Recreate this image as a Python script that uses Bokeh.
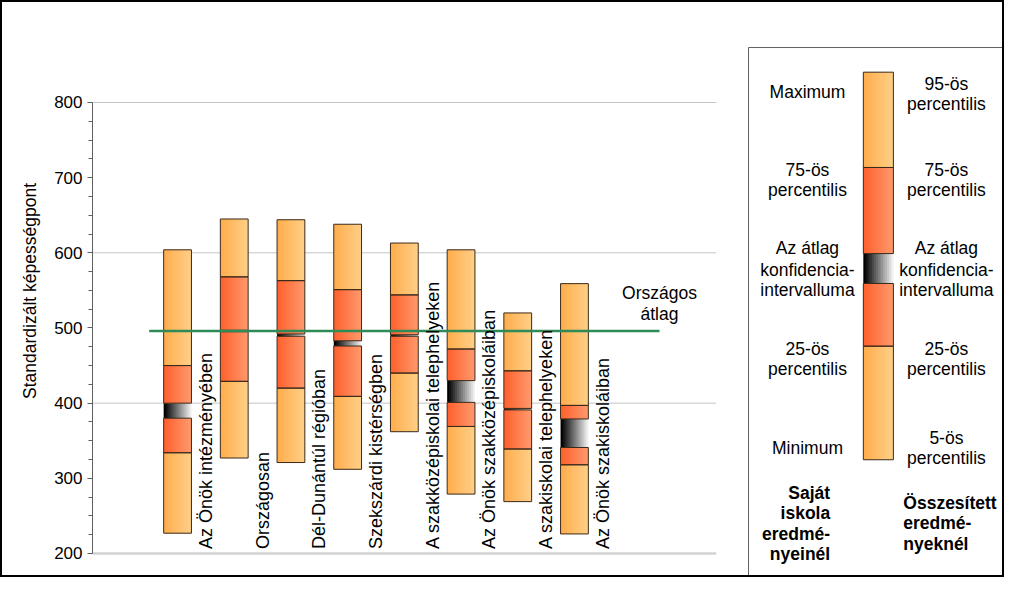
import numpy as np
from bokeh.plotting import figure
from bokeh.models import Range1d, SingleIntervalTicker
from bokeh.core.properties import value
from bokeh.embed import file_html
from bokeh.resources import INLINE

# ---------------- data ----------------
categories = [
    "Az Önök intézményében",
    "Országosan",
    "Dél-Dunántúl régióban",
    "Szekszárdi kistérségben",
    "A szakközépiskolai telephelyeken",
    "Az Önök szakközépiskoláiban",
    "A szakiskolai telephelyeken",
    "Az Önök szakiskoláiban",
]
minimum = [227, 327, 321, 312, 362, 279, 269, 226]
p25 = [334, 429, 420, 409, 440, 369, 339, 318]
ci_low = [380, 495, 489, 476, 489, 401, 391, 341]
ci_high = [400, 497, 492, 483, 491, 430, 393, 379]
p75 = [450, 568, 563, 551, 544, 472, 443, 397]
maximum = [604, 645, 644, 638, 613, 604, 520, 559]
national_mean = 496
grid_values = [200, 400, 600, 800]

# legend key (illustrative sample bar)
key_bottom, key_p25, key_ci_lo, key_ci_hi, key_p75, key_top = 324.7, 475.8, 559.2, 599.0, 713.5, 840.3

FONT = value("Liberation Sans")
FS = "17.5px"
FS_CAT = "18px"

LIGHT = ((255, 174, 78), (255, 206, 134))
DARK = ((255, 98, 46), (255, 152, 108))
CIC = ((0, 0, 0), (238, 238, 238))
OUTLINE = "#3a2a1a"

p = figure(width=1004, height=577, output_backend="svg", toolbar_location=None,
           title=None, x_axis_location=None, y_axis_location="left",
           x_range=Range1d(0, 16.12), y_range=Range1d(165.4, 933.0),
           min_border_left=90, min_border_right=0, min_border_top=0, min_border_bottom=0)
p.outline_line_color = None
p.grid.visible = False
p.background_fill_color = "white"
p.border_fill_color = "white"
p.styles = {"border": "2px solid black"}

ax = p.yaxis[0]
ax.bounds = (200, 800)
ax.ticker = SingleIntervalTicker(interval=100, num_minor_ticks=4)
ax.axis_line_color = "#606060"
ax.major_tick_line_color = "#606060"
ax.minor_tick_line_color = "#606060"
ax.major_tick_out = 5
ax.major_tick_in = 0
ax.minor_tick_out = 4
ax.minor_tick_in = 0
ax.major_label_text_font = "Liberation Sans"
ax.major_label_text_font_size = "17px"
ax.major_label_text_color = "black"
ax.major_label_standoff = 5
ax.axis_label = "Standardizált képességpont"
ax.axis_label_text_font = "Liberation Sans"
ax.axis_label_text_font_size = FS
ax.axis_label_text_font_style = "normal"
ax.axis_label_text_color = "black"
ax.axis_label_standoff = 11

n = len(categories)
xs = np.arange(n) + 1.5
bar_w = 0.49

# gridlines (limited to chart area)
p.segment(x0=[0] * len(grid_values), x1=[11] * len(grid_values), y0=grid_values, y1=grid_values,
          line_color=["#d2d2d2", "#c4c4c4", "#c4c4c4", "#c4c4c4"], line_width=[2.5, 1, 1, 1])


def mix(c0, c1, f):
    return "#%02x%02x%02x" % tuple(int(round(a + (b - a) * f)) for a, b in zip(c0, c1))


def gradient(centers, bottoms, tops, width, cols, nstrip=14):
    L, R, B, T, C = [], [], [], [], []
    sw = width / nstrip
    for cx, b, t in zip(centers, bottoms, tops):
        x0 = cx - width / 2
        for i in range(nstrip):
            L.append(x0 + i * sw)
            R.append(x0 + (i + 1) * sw + (0.6 * sw if i < nstrip - 1 else 0))
            B.append(b)
            T.append(t)
            C.append(mix(cols[0], cols[1], i / (nstrip - 1)))
    p.quad(left=L, right=R, bottom=B, top=T, fill_color=C, line_color=None)


def draw_bar(centers, mn, q25, clo, chi, q75, mx, width):
    gradient(centers, mn, q25, width, LIGHT)
    gradient(centers, q25, clo, width, DARK)
    gradient(centers, clo, chi, width, CIC)
    gradient(centers, chi, q75, width, DARK)
    gradient(centers, q75, mx, width, LIGHT)
    for lo, hi in [(mn, q25), (q25, clo), (chi, q75), (q75, mx)]:
        p.quad(left=[c - width / 2 for c in centers], right=[c + width / 2 for c in centers],
               bottom=lo, top=hi, fill_alpha=0, line_color=OUTLINE, line_width=1)


draw_bar(xs, minimum, p25, ci_low, ci_high, p75, maximum, bar_w)

# national mean line
p.segment(x0=[1], x1=[10], y0=[national_mean], y1=[national_mean], line_color="#2e8b57", line_width=2.5)
p.text(x=[10, 10], y=[national_mean + 50, national_mean + 23], text=["Országos", "átlag"],
       text_align="center", text_baseline="middle", text_font=FONT, text_font_size=FS, text_color="black")

# category labels
p.text(x=xs + 0.5, y=[206] * n, text=categories, angle=np.pi / 2, text_align="left",
       text_baseline="middle", text_font=FONT, text_font_size=FS_CAT, text_color="black")

# ---------------- legend ----------------
p.quad(left=[11.57], right=[16.08], bottom=[169.4], top=[873.1], fill_color="white",
       line_color="#606060", line_width=1)
kx = [13.86]
draw_bar(kx, [key_bottom], [key_p25], [key_ci_lo], [key_ci_hi], [key_p75], [key_top], 0.53)

left_lines = [("Maximum", 814.6), ("75-ös", 710.0), ("percentilis", 683.0),
              ("Az átlag", 606.0), ("konfidencia-", 577.0), ("intervalluma", 550.0),
              ("25-ös", 472.5), ("percentilis", 446.0), ("Minimum", 341.0)]
right_lines = [("95-ös", 824.0), ("percentilis", 797.5), ("75-ös", 710.0), ("percentilis", 683.0),
               ("Az átlag", 606.0), ("konfidencia-", 577.0), ("intervalluma", 550.0),
               ("25-ös", 472.5), ("percentilis", 446.0), ("5-ös", 353.0), ("percentilis", 326.5)]
p.text(x=[12.61] * len(left_lines), y=[v for _, v in left_lines], text=[t for t, _ in left_lines],
       text_align="center", text_baseline="middle", text_font=FONT, text_font_size=FS, text_color="black")
p.text(x=[15.06] * len(right_lines), y=[v for _, v in right_lines], text=[t for t, _ in right_lines],
       text_align="center", text_baseline="middle", text_font=FONT, text_font_size=FS, text_color="black")

bold_left = [("Saját", 280.0), ("iskola", 253.5), ("eredmé-", 226.5), ("nyeinél", 199.0)]
bold_right = [("Összesített", 267.0), ("eredmé-", 240.0), ("nyeknél", 213.0)]
p.text(x=[13.01] * len(bold_left), y=[v for _, v in bold_left], text=[t for t, _ in bold_left],
       text_align="right", text_baseline="middle", text_font=FONT, text_font_size=FS,
       text_font_style="bold", text_color="black")
p.text(x=[14.30] * len(bold_right), y=[v for _, v in bold_right], text=[t for t, _ in bold_right],
       text_align="left", text_baseline="middle", text_font=FONT, text_font_size=FS,
       text_font_style="bold", text_color="black")

open("out.html", "w").write(file_html(p, INLINE))
